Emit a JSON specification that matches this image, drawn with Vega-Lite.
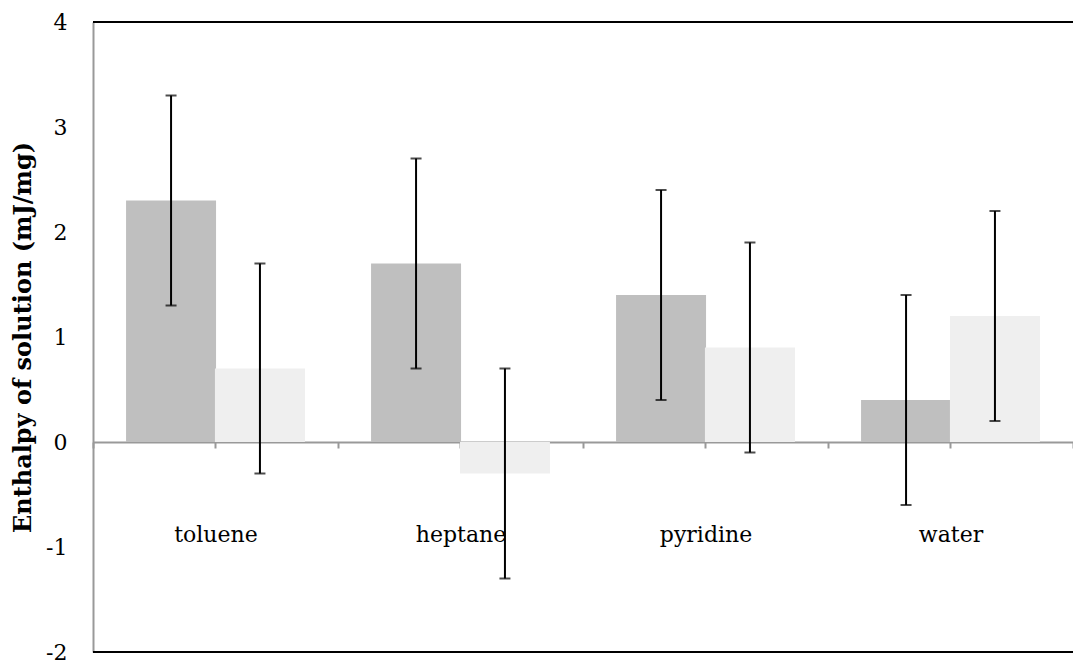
{
  "$schema": "https://vega.github.io/schema/vega-lite/v6.json",
  "width": 980,
  "height": 630,
  "autosize": {"type": "none"},
  "padding": {"left": 93, "top": 22, "right": 0, "bottom": 13},
  "background": "white",
  "config": {
    "view": {"stroke": null},
    "font": "DejaVu Serif",
    "axis": {"labelFont": "DejaVu Serif", "titleFont": "DejaVu Serif", "labelColor": "black", "titleColor": "black"}
  },
  "data": {
    "values": [
      {"solvent": "toluene", "series": "A", "value": 2.3, "low": 1.3, "high": 3.3},
      {"solvent": "toluene", "series": "B", "value": 0.7, "low": -0.3, "high": 1.7},
      {"solvent": "heptane", "series": "A", "value": 1.7, "low": 0.7, "high": 2.7},
      {"solvent": "heptane", "series": "B", "value": -0.3, "low": -1.3, "high": 0.7},
      {"solvent": "pyridine", "series": "A", "value": 1.4, "low": 0.4, "high": 2.4},
      {"solvent": "pyridine", "series": "B", "value": 0.9, "low": -0.1, "high": 1.9},
      {"solvent": "water", "series": "A", "value": 0.4, "low": -0.6, "high": 1.4},
      {"solvent": "water", "series": "B", "value": 1.2, "low": 0.2, "high": 2.2}
    ]
  },
  "resolve": {"axis": {"x": "independent"}},
  "layer": [
    {
      "mark": {"type": "rule", "color": "black", "strokeWidth": 2},
      "encoding": {"y": {"datum": 4}}
    },
    {
      "mark": {"type": "rule", "color": "black", "strokeWidth": 2},
      "encoding": {"y": {"datum": -2}}
    },
    {
      "mark": {"type": "bar", "width": 90},
      "encoding": {
        "x": {
          "field": "solvent", "type": "nominal", "sort": ["toluene", "heptane", "pyridine", "water"],
          "scale": {"paddingInner": 0, "paddingOuter": 0},
          "axis": {
            "title": null, "orient": "bottom", "offset": -210, "labelAngle": 0,
            "labelFontSize": 22, "labelPadding": 76, "tickBand": "extent",
            "domainColor": "#999999", "domainWidth": 2, "tickColor": "#999999", "tickWidth": 2, "tickSize": 6
          }
        },
        "xOffset": {"field": "series", "type": "nominal", "scale": {"paddingInner": 0, "paddingOuter": 0.378}},
        "y": {
          "field": "value", "type": "quantitative",
          "scale": {"domain": [-2, 4], "nice": false},
          "axis": {
            "title": "Enthalpy of solution (mJ/mg)", "titleFontSize": 24, "titleFontWeight": "bold",
            "titlePadding": 10, "values": [-2, -1, 0, 1, 2, 3, 4], "grid": false, "ticks": false,
            "labelExpr": "'' + datum.value",
            "labelFontSize": 22, "labelPadding": 26, "domainColor": "#999999", "domainWidth": 2
          }
        },
        "color": {
          "field": "series", "type": "nominal",
          "scale": {"domain": ["A", "B"], "range": ["#bfbfbf", "#efefef"]},
          "legend": null
        }
      }
    },
    {
      "mark": {"type": "rule", "color": "black", "strokeWidth": 2},
      "encoding": {
        "x": {"field": "solvent", "type": "nominal", "sort": ["toluene", "heptane", "pyridine", "water"], "axis": {"title": null, "orient": "bottom", "labels": false, "domain": false, "offset": -210, "tickBand": "center", "tickColor": "#999999", "tickWidth": 2, "tickSize": 6}},
        "xOffset": {"field": "series", "type": "nominal"},
        "y": {"field": "low", "type": "quantitative"},
        "y2": {"field": "high"}
      }
    },
    {
      "mark": {"type": "tick", "color": "black", "thickness": 2, "size": 11, "orient": "horizontal"},
      "encoding": {
        "x": {"field": "solvent", "type": "nominal", "sort": ["toluene", "heptane", "pyridine", "water"], "axis": null},
        "xOffset": {"field": "series", "type": "nominal"},
        "y": {"field": "low", "type": "quantitative"}
      }
    },
    {
      "mark": {"type": "tick", "color": "black", "thickness": 2, "size": 11, "orient": "horizontal"},
      "encoding": {
        "x": {"field": "solvent", "type": "nominal", "sort": ["toluene", "heptane", "pyridine", "water"], "axis": null},
        "xOffset": {"field": "series", "type": "nominal"},
        "y": {"field": "high", "type": "quantitative"}
      }
    }
  ]
}
